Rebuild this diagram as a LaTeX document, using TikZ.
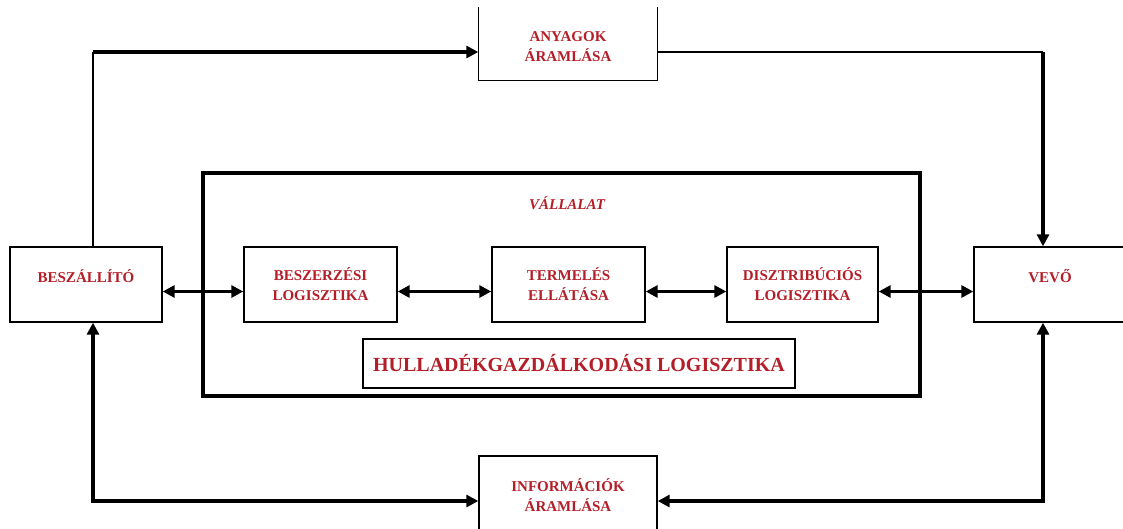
\documentclass[tikz,border=0pt]{standalone}
\usepackage{fontspec}
\setmainfont{Liberation Serif}
\usepackage{tikz}
\usetikzlibrary{arrows.meta}
\definecolor{labelred}{RGB}{180,30,40}

\begin{document}
\begin{tikzpicture}[x = 1pt, y = -1pt,
        unit/.style = {draw, line width = 1.4pt, rectangle, minimum height = 75pt, align = center,
            text = labelred, font = \bfseries\fontsize{15}{20}\selectfont},
        single/.style = {text height = 10pt, text depth = 14pt},
        link/.style = {line width = 3.5pt, -{Triangle[length = 12pt, width = 12pt]}},
        bilink/.style = {line width = 3.5pt, {Triangle[length = 12pt, width = 12pt]}-{Triangle[length = 12pt, width = 12pt]}},
        plain/.style = {line width = 1.4pt}
    ]
        \useasboundingbox (0, 0) rectangle (1123, 528);
        \clip (0, 0) rectangle (1123, 528);

        \draw[line width = 4.5pt]
            (203, 173) rectangle (920, 396)
        ;

        \draw
            (86, 284.5) node[unit, single, minimum width = 152pt](besz){BESZÁLLÍTÓ}
            (320.5, 284.5) node[unit, minimum width = 153pt](beszerz){BESZERZÉSI\\LOGISZTIKA}
            (568.5, 284.5) node[unit, minimum width = 153pt](termel){TERMELÉS\\ELLÁTÁSA}
            (802.5, 284.5) node[unit, minimum width = 151pt](disztr){DISZTRIBÚCIÓS\\LOGISZTIKA}
            (1050, 284.5) node[unit, single, minimum width = 152pt](vevo){VEVŐ}
            (579, 363.5) node[unit, minimum width = 432pt, minimum height = 49pt, font = \bfseries\fontsize{20}{24}\selectfont](hulla){HULLADÉKGAZDÁLKODÁSI LOGISZTIKA}
            (568, 47) node[unit, draw = none, minimum width = 178pt, minimum height = 66pt](anyag){ANYAGOK\\ÁRAMLÁSA}
            (568, 495) node[unit, minimum width = 178pt, minimum height = 78pt](info){INFORMÁCIÓK\\ÁRAMLÁSA}
            (567, 203) node[text = labelred, font = \bfseries\itshape\fontsize{15}{20}\selectfont](vall){VÁLLALAT}
        ;

        \draw[plain]
            ([yshift = 6pt]anyag.north west) |- (anyag.south east) -- ([yshift = 6pt]anyag.north east)
        ;

        \draw[bilink] ([yshift = -7pt]besz.east) -- ([yshift = -7pt]beszerz.west);
        \draw[bilink] ([yshift = -7pt]beszerz.east) -- ([yshift = -7pt]termel.west);
        \draw[bilink] ([yshift = -7pt]termel.east) -- ([yshift = -7pt]disztr.west);
        \draw[bilink] ([yshift = -7pt]disztr.east) -- ([yshift = -7pt]vevo.west);

        \coordinate (supout) at ([xshift = 7pt]besz.north);
        \coordinate (matin) at ([yshift = -5pt]anyag.west);
        \coordinate (matout) at ([yshift = -5pt]anyag.east);
        \coordinate (custin) at ([xshift = -7pt]vevo.north);

        \draw[plain] (supout) -- (supout |- matin);
        \draw[link] (supout |- matin) -- (matin);
        \draw[plain] (matout) -- (matout -| custin);
        \draw[link] (matout -| custin) -- (custin);

        \draw[bilink]
            ([xshift = 7pt]besz.south) |- ([yshift = -6pt]info.west)
        ;
        \draw[bilink]
            ([xshift = -7pt]vevo.south) |- ([yshift = -6pt]info.east)
        ;
    \end{tikzpicture}
\end{document}
